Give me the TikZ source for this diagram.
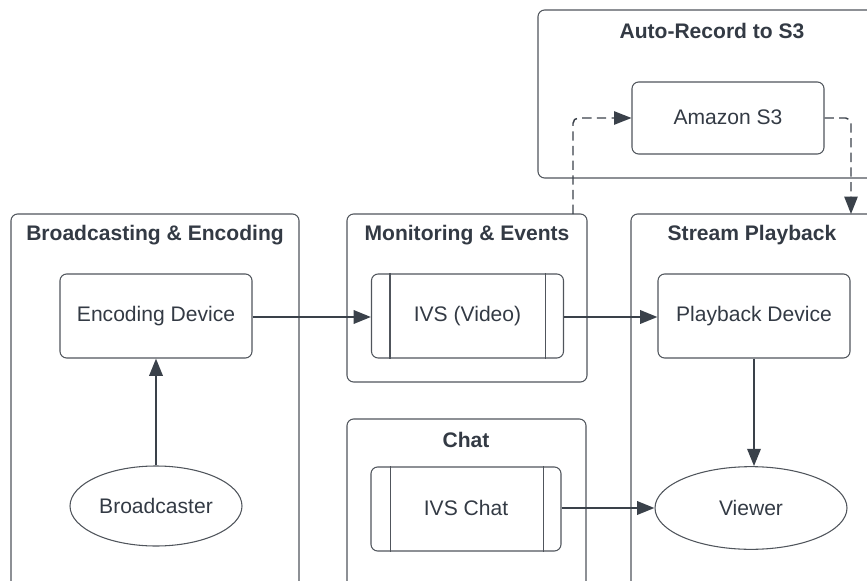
\documentclass[tikz,border=0pt]{standalone}
\usepackage{fontspec}
\setmainfont{Liberation Sans}
\usetikzlibrary{arrows.meta,shapes.geometric,calc}
\definecolor{ln}{HTML}{3A414A}
\definecolor{bd}{HTML}{50555C}
\definecolor{tx}{HTML}{333A44}
\newcommand{\up}[1]{\raisebox{1.8pt}{#1}}
\begin{document}
\begin{tikzpicture}[x=0.75pt,y=-0.75pt,
  container/.style={draw=bd, line width=0.8pt, rounded corners=5pt},
  ctitle/.style={font=\fontsize{15.8pt}{18pt}\selectfont\bfseries, text=tx},
  box/.style={draw=bd, line width=0.8pt, rounded corners=5pt, minimum width=144pt, minimum height=63pt, font=\fontsize{15.8pt}{18pt}\selectfont, text=tx, inner sep=0pt},
  oval/.style={draw=bd, line width=0.8pt, ellipse, minimum width=129pt, minimum height=60pt, font=\fontsize{15.8pt}{18pt}\selectfont, text=tx, inner sep=0pt},
  flow/.style={draw=ln, line width=1.8pt, -{Triangle[length=13pt,width=10pt]}},
  dflow/.style={draw=ln, line width=1.1pt, dash pattern=on 7pt off 4pt, rounded corners=4pt, -{Triangle[length=13pt,width=10pt]}}
]
\useasboundingbox (0,0) rectangle (867,581);
\clip (0,0) rectangle (867,581);
% containers
\draw[container] (11,214) rectangle (299,640);
\draw[container] (347,214) rectangle (587,382);
\draw[container] (347,419) rectangle (586,640);
\draw[container] (631,214) rectangle (900,640);
\draw[container] (538,10) rectangle (900,178);
\node[ctitle] (t1) at (155,235) {Broadcasting \& Encoding};
\node[ctitle] (t2) at (467,235) {Monitoring \& Events};
\node[ctitle] (t3) at (466,440) {Chat};
\node[ctitle] (t4) at (752,235) {Stream Playback};
\node[ctitle] (t5) at (712,31) {Auto-Record to S3};
% nodes
\node[box] (enc) at (156,316) {\up{Encoding Device}};
\node[oval] (bc) at (156,506) {Broadcaster};
\node[box] (ivs) at (467.5,316) {\up{IVS (Video)}};
\draw[bd, line width=0.8pt] ($(ivs.north west)+(19,0)$) -- ($(ivs.south west)+(19,0)$);
\draw[bd, line width=0.8pt] ($(ivs.north east)+(-19,0)$) -- ($(ivs.south east)+(-19,0)$);
\node[box, minimum width=142.5pt] (chat) at (466,509) {\up{IVS Chat}};
\draw[bd, line width=0.8pt] ($(chat.north west)+(20,0)$) -- ($(chat.south west)+(20,0)$);
\draw[bd, line width=0.8pt] ($(chat.north east)+(-18,0)$) -- ($(chat.south east)+(-18,0)$);
\node[box] (pb) at (754,316) {\up{Playback Device}};
\node[oval, minimum width=144pt, minimum height=62pt] (vw) at (751,508) {Viewer};
\node[box, minimum height=54pt] (s3) at (728,118) {\up{Amazon S3}};
\coordinate (mtop) at (573,214);
\coordinate (sptop) at (851,214);
% connectors
\draw[flow] (enc.east |- 0,317) -- (ivs.west |- 0,317);
\draw[flow] (ivs.east |- 0,317) -- (pb.west |- 0,317);
\draw[flow] (bc.north) -- (enc.south);
\draw[flow] (pb.south -| 754,0) -- (vw.north -| 754,0);
\draw[flow] (chat.east |- 0,508) -- (vw.west |- 0,508);
\draw[dflow] (mtop) -- (573,118) -- (s3.west |- 0,118);
\draw[dflow] (s3.east) -- (851,118) -- (sptop);
\end{tikzpicture}
\end{document}
